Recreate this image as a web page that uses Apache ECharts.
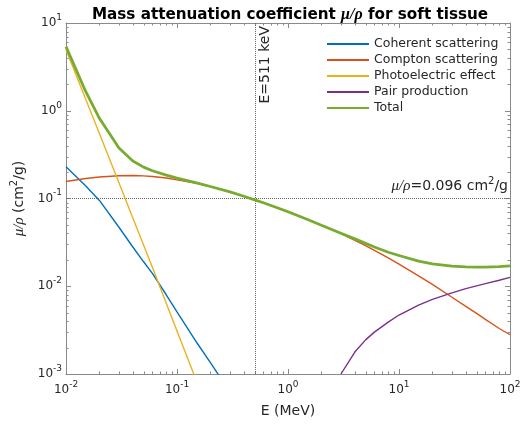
<!DOCTYPE html>
<html><head><meta charset="utf-8">
<script src="https://cdn.jsdelivr.net/npm/echarts@6/dist/echarts.min.js"></script>
<style>html,body{margin:0;padding:0;background:#fff}#c{width:526px;height:424px}</style>
</head><body><div id="c"></div>
<script>
// ---- data ----
const energies = [0.01,0.015,0.02,0.03,0.04,0.05,0.06,0.08,0.1,0.15,0.2,0.3,0.4,0.5,0.6,0.8,1,1.25,1.5,2,3,4,5,6,8,10,15,20,30,40,50,60,80,100];
const coherent = [0.23,0.14,0.095,0.047,0.028,0.019,0.014,0.008,0.0051,0.0023,0.00135,0.00062];
const compton = [0.156,0.169,0.176,0.182,0.183,0.181,0.178,0.171,0.163,0.149,0.137,0.119,0.106,0.0966,0.0894,0.0785,0.0706,0.0632,0.0575,0.0494,0.0397,0.0334,0.0290,0.0257,0.0210,0.0179,0.0131,0.0105,0.0075,0.0059,0.0049,0.0042,0.0033,0.0028];
const photo = [4.95,1.37,0.55,0.151,0.060,0.0295,0.0165,0.0064,0.0031,0.00083,0.00034];
const pairStart = 20; // index of 3 MeV
const pair = [0.00100,0.00178,0.00245,0.0030,0.0039,0.0047,0.0061,0.0071,0.0084,0.0094,0.0101,0.0107,0.0117,0.0126];
const total = [5.38,1.67,0.82,0.377,0.268,0.228,0.207,0.185,0.171,0.151,0.137,0.119,0.106,0.0966,0.0894,0.0785,0.0707,0.0632,0.0576,0.0496,0.0402,0.0347,0.0308,0.0280,0.0244,0.0224,0.0193,0.0180,0.0170,0.0166,0.0165,0.0165,0.0167,0.0171];
const seriesNames = ['Coherent scattering','Compton scattering','Photoelectric effect','Pair production','Total'];
const refEnergy = 0.511;
const refMu = 0.096;
const xRange = [0.01, 100];
const yRange = [0.001, 10];

// ---- chart ----
const FONT = 'DejaVu Sans';
const TXT = '#262626';
const AX = '#8a8a8a';
const colors = ['#0072BD','#D95319','#EDB120','#7E2F8E','#77AC30'];

function pairs(vals, start) {
  start = start || 0;
  return vals.map((v, i) => [energies[start + i], v]);
}
function powLabel(v) {
  const e = Math.round(Math.log10(v));
  return '{b|10}{s|' + e + '}';
}
const tickRich = {
  b: {fontSize: 12, fontFamily: FONT, color: TXT, lineHeight: 20},
  s: {fontSize: 9, fontFamily: FONT, color: TXT, verticalAlign: 'top', lineHeight: 9}
};
const mathRich = (size) => ({
  i: {fontSize: size + 1, fontFamily: 'Liberation Serif', fontStyle: 'italic', color: TXT},
  n: {fontSize: size, fontFamily: FONT, color: TXT, lineHeight: size + 6},
  s: {fontSize: size - 4, fontFamily: FONT, color: TXT, verticalAlign: 'top', lineHeight: size - 4}
});

const chart = echarts.init(document.getElementById('c'), null, {renderer: 'canvas'});

function baseX(pos, showLabel) {
  return {
    type: 'log', logBase: 10, min: xRange[0], max: xRange[1], position: pos,
    axisLine: {show: true, onZero: false, lineStyle: {color: AX, width: 1}},
    axisTick: {show: true, inside: true, length: 5, lineStyle: {color: AX, width: 1}},
    axisLabel: showLabel ? {show: true, formatter: powLabel, margin: 6, rich: tickRich} : {show: false},
    splitLine: {show: false}, minorTick: {show: false}
  };
}
function baseY(pos, showLabel) {
  return {
    type: 'log', logBase: 10, min: yRange[0], max: yRange[1], position: pos,
    axisLine: {show: true, onZero: false, lineStyle: {color: AX, width: 1}},
    axisTick: {show: true, inside: true, length: 5, lineStyle: {color: AX, width: 1}},
    axisLabel: showLabel ? {show: true, formatter: powLabel, margin: 4, rich: tickRich} : {show: false},
    splitLine: {show: false}, minorTick: {show: false}
  };
}

const xMain = Object.assign(baseX('bottom', true), {
  name: 'E (MeV)', nameLocation: 'middle', nameGap: 30,
  nameTextStyle: {fontSize: 14, fontFamily: FONT, color: TXT}
});
const yMain = Object.assign(baseY('left', true), {
  name: '{i|μ/ρ}{n| (cm}{s|2}{n|/g)}', nameLocation: 'middle', nameGap: 36,
  nameTextStyle: {rich: mathRich(14)}
});

const lineW = [1.4, 1.4, 1.4, 1.4, 2.8];
const datasets = [pairs(coherent), pairs(compton), pairs(photo), pairs(pair, pairStart), pairs(total)];

const series = seriesNames.map((name, k) => ({
  name: name, type: 'line', data: datasets[k], symbol: 'none', showSymbol: false,
  silent: true, animation: false, z: 3 + k,
  lineStyle: {color: colors[k], width: lineW[k]}, itemStyle: {color: colors[k]}
}));
series[0].markLine = {
  silent: true, symbol: 'none', animation: false,
  lineStyle: {type: 'dotted', color: '#666', width: 1},
  data: [
    {xAxis: refEnergy, label: {show: true, position: 'insideEndBottom', formatter: 'E=511 keV',
      fontSize: 14, fontFamily: FONT, color: TXT, distance: 3}},
    {yAxis: refMu, label: {show: true, position: 'insideEndTop', distance: 2,
      formatter: '{i|μ/ρ}{n|=0.096 cm}{s|2}{n|/g}', rich: mathRich(14)}}
  ]
};

chart.setOption({
  animation: false,
  backgroundColor: '#fff',
  title: {
    text: '{b|Mass attenuation coefficient }{i|μ/ρ}{b| for soft tissue}',
    left: 285, top: 2, textAlign: 'center',
    textStyle: {rich: {
      b: {fontSize: 15.2, fontWeight: 'bold', fontFamily: FONT, color: '#000'},
      i: {fontSize: 16, fontStyle: 'italic', fontFamily: 'Liberation Serif', color: '#000'}
    }}
  },
  grid: {left: 66, right: 16, top: 23, bottom: 50, containLabel: false},
  legend: {
    orient: 'vertical', left: 326, top: 37, padding: 0, itemWidth: 42, itemHeight: 14, itemGap: 2,
    itemStyle: {opacity: 0},
    textStyle: {fontSize: 12.5, lineHeight: 14, fontFamily: FONT, color: TXT}, data: seriesNames, selectedMode: false
  },
  xAxis: [xMain, baseX('top', false)],
  yAxis: [yMain, baseY('right', false)],
  series: series
});

// minor log ticks on all four sides, positioned through the axes' scales
function minorTicks() {
  const els = [];
  const st = {stroke: AX, lineWidth: 1};
  const yb = chart.convertToPixel({yAxisIndex: 0}, yRange[0]);
  const yt = chart.convertToPixel({yAxisIndex: 0}, yRange[1]);
  const xl = chart.convertToPixel({xAxisIndex: 0}, xRange[0]);
  const xr = chart.convertToPixel({xAxisIndex: 0}, xRange[1]);
  const L = 2.5;
  for (let d = -2; d < 2; d++) for (let k = 2; k <= 9; k++) {
    const x = Math.round(chart.convertToPixel({xAxisIndex: 0}, k * Math.pow(10, d))) + 0.5;
    els.push({type: 'line', silent: true, shape: {x1: x, y1: yb, x2: x, y2: yb - L}, style: st});
    els.push({type: 'line', silent: true, shape: {x1: x, y1: yt, x2: x, y2: yt + L}, style: st});
  }
  for (let d = -3; d < 1; d++) for (let k = 2; k <= 9; k++) {
    const y = Math.round(chart.convertToPixel({yAxisIndex: 0}, k * Math.pow(10, d))) + 0.5;
    els.push({type: 'line', silent: true, shape: {x1: xl, y1: y, x2: xl + L, y2: y}, style: st});
    els.push({type: 'line', silent: true, shape: {x1: xr, y1: y, x2: xr - L, y2: y}, style: st});
  }
  chart.setOption({graphic: els});
}
minorTicks();
</script>
</body></html>
